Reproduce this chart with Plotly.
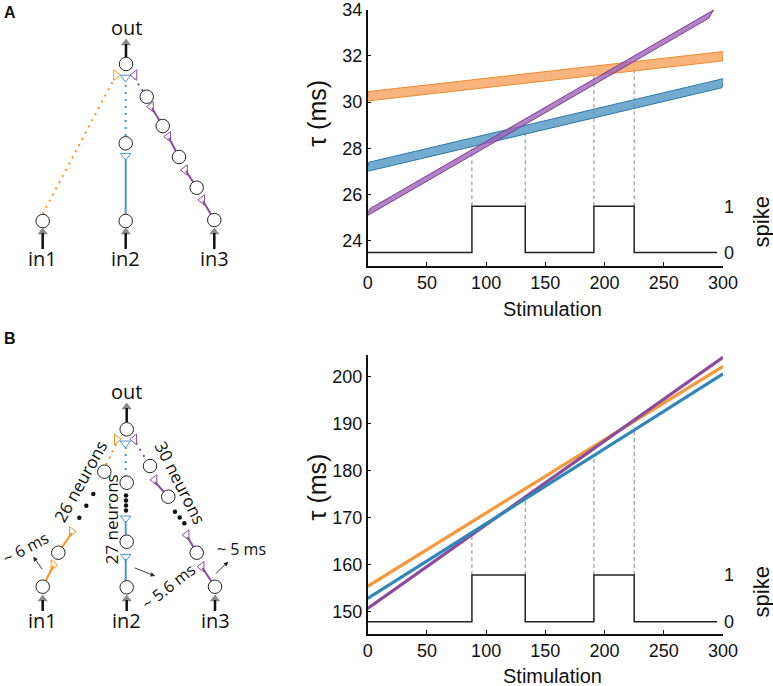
import plotly.graph_objects as go
import numpy as np

W, H = 773, 686

# ---------------- data ----------------
stim_x = [0, 300]
tauA_orange = [30.25, 31.98]
tauA_blue = [27.2, 30.82]
tauA_purple_x = [0, 290]
tauA_purple = [25.22, 33.8]

tauB_x = [0, 300]
tauB_orange = [155.4, 202.2]
tauB_blue = [152.8, 200.6]
tauB_purple = [150.7, 204.1]

spike_t = [0, 88, 88, 133, 133, 191, 191, 225, 225, 295]
spike_v = [0, 0, 1, 1, 0, 0, 1, 1, 0, 0]
spike_edges = [88, 133, 191, 225]
dashA_top = [28.0, 28.7, 31.2, 31.7]
dashB_top = [166.0, 173.6, 183.3, 189.2]

xticks = [0, 50, 100, 150, 200, 250, 300]
yticksA = [24, 26, 28, 30, 32, 34]
yticksB = [150, 160, 170, 180, 190, 200]
spike_ticks = [0, 1]

# ---------------- layout geometry (pixels) ----------------
X0, X1 = 367.7, 723.0
A_top, A_bot = 9.5, 265.7
B_top, B_bot = 355.0, 634.0
rangeA = [22.93, 34.0]
rangeB = [145.25, 204.6]
spikeA = (23.5, 25.5)      # y1 level of spike 0 / 1
spikeB = (147.87, 157.8)

def pdom(top, bot):
    return [1 - bot / H, 1 - top / H]

def y2range(r, s):
    return [(r[0] - s[0]) / (s[1] - s[0]), (r[1] - s[0]) / (s[1] - s[0])]

C_OR = '#F28A2E'; C_BL = '#2A78A8'; C_PU = '#7E3C96'
F_OR = 'rgba(247,163,95,0.82)'; F_BL = 'rgba(84,152,196,0.82)'; F_PU = 'rgba(160,98,182,0.80)'
L_OR = '#F5983A'; L_BL = '#2F86B8'; L_PU = '#8C4A9E'
D_OR = '#F7941D'; D_BL = '#4A9AC8'; D_PU = '#8B4C9E'

fig = go.Figure()

xs_px = (X1 - X0) / 300.0
ysA_px = (A_bot - A_top) / (rangeA[1] - rangeA[0])

def band(x, y, w=9.5):
    dx = (x[1] - x[0]) * xs_px
    dy = (y[1] - y[0]) * ysA_px
    L = np.hypot(dx, dy)
    nx = -dy / L * w / 2 / xs_px
    ny = dx / L * w / 2 / ysA_px
    px = [x[0] - nx, x[1] - nx, x[1] + nx, x[0] + nx, x[0] - nx]
    py = [y[0] + ny, y[1] + ny, y[1] - ny, y[0] - ny, y[0] + ny]
    return px, py

# dashed verticals A
dx_, dy_ = [], []
for e, t in zip(spike_edges, dashA_top):
    dx_ += [e, e, None]; dy_ += [spikeA[1], t, None]
fig.add_trace(go.Scatter(x=dx_, y=dy_, mode='lines', line=dict(color='#888', width=1, dash='4px,3px'),
                         xaxis='x', yaxis='y', hoverinfo='skip', showlegend=False))
for xv, yv, fc, lc in [(stim_x, tauA_orange, F_OR, C_OR), (stim_x, tauA_blue, F_BL, C_BL),
                       (tauA_purple_x, tauA_purple, F_PU, C_PU)]:
    px, py = band(xv, yv)
    fig.add_trace(go.Scatter(x=px, y=py, mode='lines', fill='toself', fillcolor=fc,
                             line=dict(color=lc, width=1), xaxis='x', yaxis='y',
                             hoverinfo='skip', showlegend=False))
fig.add_trace(go.Scatter(x=spike_t, y=spike_v, mode='lines', line=dict(color='#222', width=1.5),
                         xaxis='x', yaxis='y2', hoverinfo='skip', showlegend=False))

# B chart
dx_, dy_ = [], []
for e, t in zip(spike_edges, dashB_top):
    dx_ += [e, e, None]; dy_ += [spikeB[1], t, None]
fig.add_trace(go.Scatter(x=dx_, y=dy_, mode='lines', line=dict(color='#888', width=1, dash='4px,3px'),
                         xaxis='x2', yaxis='y3', hoverinfo='skip', showlegend=False))
for yv, lc in [(tauB_orange, L_OR), (tauB_purple, L_PU), (tauB_blue, L_BL)]:
    fig.add_trace(go.Scatter(x=tauB_x, y=yv, mode='lines', line=dict(color=lc, width=3.2),
                             xaxis='x2', yaxis='y3', hoverinfo='skip', showlegend=False))
fig.add_trace(go.Scatter(x=spike_t, y=spike_v, mode='lines', line=dict(color='#222', width=1.5),
                         xaxis='x2', yaxis='y4', hoverinfo='skip', showlegend=False))

# ---------------- diagrams (pixel coordinates on hidden axes x3/y5) ----------------
def dline(xs, ys, color, width=1.5, dash='solid'):
    fig.add_trace(go.Scatter(x=xs, y=ys, mode='lines', line=dict(color=color, width=width, dash=dash),
                             xaxis='x3', yaxis='y5', hoverinfo='skip', showlegend=False))

def dmark(pts, symbol, color, size, lw=1, fill=None):
    fig.add_trace(go.Scatter(x=[p[0] for p in pts], y=[p[1] for p in pts], mode='markers',
                             marker=dict(symbol=symbol, size=size, color=fill if fill else color,
                                         line=dict(color=color, width=lw)),
                             xaxis='x3', yaxis='y5', hoverinfo='skip', showlegend=False))

DOT = '2px,5px'

# ---- A ----
dline([42.7, 114], [214, 79], D_OR, 2, DOT)
dline([125.7, 125.7], [136, 82], D_BL, 2, DOT)
dline([125.7, 125.7], [214, 159], D_BL, 2)
dline([143, 135], [91, 79], D_PU, 2, DOT)
dline([162.7, 152], [126, 108], D_PU, 2)
dline([179, 169], [157, 138], D_PU, 2)
dline([196.7, 186], [187.7, 171], D_PU, 2)
dline([214.3, 203], [220, 201], D_PU, 2)
dmark([(116, 75)], 'triangle-right-open', D_OR, 9)
dmark([(125.5, 77.5), (125.7, 155.7)], 'triangle-down-open', D_BL, 9)
dmark([(134.5, 75), (151, 106.7), (168.3, 136.7), (185, 170), (202.3, 200)], 'triangle-left-open', D_PU, 9)
dmark([(126, 64), (42.7, 221), (125.7, 221), (125.7, 143.3), (214.3, 220),
       (146.7, 96.7), (162.7, 126), (179, 157), (196.7, 187.7)], 'circle', '#222', 13.5, 1, 'white')

# ---- B ----
dline([116, 106], [444, 465], D_OR, 2, DOT)
dline([71.7, 58.3], [533, 552.7], D_OR, 2)
dline([53.3, 42.7], [566, 586.7], D_OR, 2)
dline([125.7, 125.7], [447, 476], D_BL, 2, DOT)
dline([125.7, 125.7], [521, 541.7], D_BL, 2)
dline([125.7, 125.7], [559, 587.3], D_BL, 2)
dline([136, 147], [443, 461], D_PU, 2, DOT)
dline([155, 168.3], [482, 496.7], D_PU, 2)
dline([187.5, 196.7], [537, 552.7], D_PU, 2)
dline([202.5, 215], [568, 586.7], D_PU, 2)
dmark([(116.7, 439.3), (71.7, 531.7), (53.3, 565)], 'triangle-right-open', D_OR, 9)
dmark([(125.3, 443.3), (125.7, 518.3), (125.7, 556.7)], 'triangle-down-open', D_BL, 9)
dmark([(134.3, 439.3), (154.5, 480), (186.7, 535), (201.7, 566.7)], 'triangle-left-open', D_PU, 9)
dmark([(93.3, 494), (86.3, 505.7), (79.3, 517.7),
       (126, 495.5), (126, 500.5), (126, 505.5), (126, 510.5),
       (175, 511.7), (179.7, 517.5), (184.3, 523.3)], 'circle', '#111', 4.5, 0)
dmark([(126.7, 429.3), (104.3, 471.7), (58.3, 552.7), (42.7, 586.7),
       (126.7, 482.7), (126.7, 541.7), (126.7, 587.3),
       (150, 466), (168.3, 496.7), (196.7, 552.7), (215, 586.7)], 'circle', '#222', 13.5, 1, 'white')

# in/out arrows (gray head, black stem)
arrows = [(126, 57, 40), (42.7, 249, 229), (125.7, 249, 229), (214.3, 249, 229),
          (126.7, 422, 404), (42.7, 611, 596), (126.7, 611, 596), (215, 611, 596)]
dmark([(a[0], a[2] + 3) for a in arrows], 'triangle-up', '#8a8a8a', 9, 0)
sx, sy = [], []
for a in arrows:
    sx += [a[0], a[0], None]; sy += [a[1], a[2] + 4, None]
fig.add_trace(go.Scatter(x=sx, y=sy, mode='lines', line=dict(color='#111', width=2.5),
                         xaxis='x3', yaxis='y5', hoverinfo='skip', showlegend=False))

ann = []
def dtext(x, y, t, size=20, angle=0):
    ann.append(dict(x=x, y=y, xref='x3', yref='y5', text=t, showarrow=False, textangle=angle,
                    xanchor='center', yanchor='middle',
                    font=dict(family='Open Sans', size=size, color='#111')))

dtext(126, 27, 'out')
for xx, t in [(42.7, 'in1'), (125.7, 'in2'), (214.3, 'in3')]:
    dtext(xx, 258, t)
dtext(126.7, 391, 'out')
for xx, t in [(42.7, 'in1'), (126.7, 'in2'), (215, 'in3')]:
    dtext(xx, 620, t)
dtext(80, 481, '26 neurons', 17, -61)
dtext(111.3, 519, '27 neurons', 17, -90)
dtext(180.5, 482, '30 neurons', 17, 63)
dtext(25.5, 548, '~ 6 ms', 16, -28)
dtext(167.5, 586.5, '~ 5.6 ms', 16, -38)
dtext(241, 549, '~ 5 ms', 16, 0)

for (hx, hy, tx, ty) in [(33.3, 556.7, 43.3, 570.7), (155, 576, 133.3, 567.3), (228.3, 561.7, 214.3, 575)]:
    ann.append(dict(x=hx, y=hy, ax=tx, ay=ty, xref='x3', yref='y5', axref='x3', ayref='y5',
                    text='', showarrow=True, arrowhead=2, arrowsize=1, arrowwidth=0.9, arrowcolor='#222'))

def ptext(x, y, t, s, a=0, bold=False):
    ann.append(dict(x=x / W, y=1 - y / H, xref='paper', yref='paper',
                    text=('<b>%s</b>' % t) if bold else t, showarrow=False, textangle=a,
                    xanchor='center', yanchor='middle',
                    font=dict(family='Liberation Sans', size=s, color='#111')))

ptext(10, 12, 'A', 16, bold=True)
ptext(10, 338, 'B', 16, bold=True)
ptext(316.7, 113, 'τ (ms)', 25, -90)
ptext(552.3, 308.5, 'Stimulation', 20)
ptext(761.7, 221.7, 'spike', 22, -90)
ptext(316.7, 486.7, 'τ (ms)', 25, -90)
ptext(552.3, 675.5, 'Stimulation', 20)
ptext(761.7, 591.7, 'spike', 22, -90)

TF = dict(family='Liberation Sans', size=18, color='#111')
xcommon = dict(range=[0, 300], tickvals=xticks, showline=True, linecolor='#111', linewidth=1.5,
               ticks='inside', ticklen=4, tickcolor='#111', showgrid=False, zeroline=False,
               tickfont=TF, domain=[X0 / W, X1 / W], automargin=False, ticklabeloverflow='allow')
ycommon = dict(showline=True, linecolor='#111', linewidth=1.5, ticks='inside', ticklen=4,
               tickcolor='#111', showgrid=False, zeroline=False, tickfont=TF, automargin=False,
               ticklabeloverflow='allow')
y2common = dict(side='right', showline=False, ticks='', showgrid=False, zeroline=False,
                tickvals=spike_ticks, tickfont=TF, automargin=False, ticklabeloverflow='allow')

fig.update_layout(
    width=W, height=H, margin=dict(l=0, r=0, t=0, b=0, pad=0, autoexpand=False),
    paper_bgcolor='white', plot_bgcolor='rgba(0,0,0,0)', showlegend=False,
    xaxis=dict(anchor='y', **xcommon),
    yaxis=dict(anchor='x', domain=pdom(A_top, A_bot), range=rangeA, tickvals=yticksA, **ycommon),
    yaxis2=dict(anchor='x', overlaying='y', range=y2range(rangeA, spikeA), **y2common),
    xaxis2=dict(anchor='y3', **xcommon),
    yaxis3=dict(anchor='x2', domain=pdom(B_top, B_bot), range=rangeB, tickvals=yticksB, **ycommon),
    yaxis4=dict(anchor='x2', overlaying='y3', range=y2range(rangeB, spikeB), **y2common),
    xaxis3=dict(domain=[0, 300 / W], range=[0, 300], visible=False, anchor='y5', automargin=False),
    yaxis5=dict(domain=[0, 1], range=[H, 0], visible=False, anchor='x3', automargin=False),
    annotations=ann,
)

fig.write_html('out.html', config={'displayModeBar': False},
               post_script="document.body.style.margin='0';document.body.style.overflow='hidden';")
